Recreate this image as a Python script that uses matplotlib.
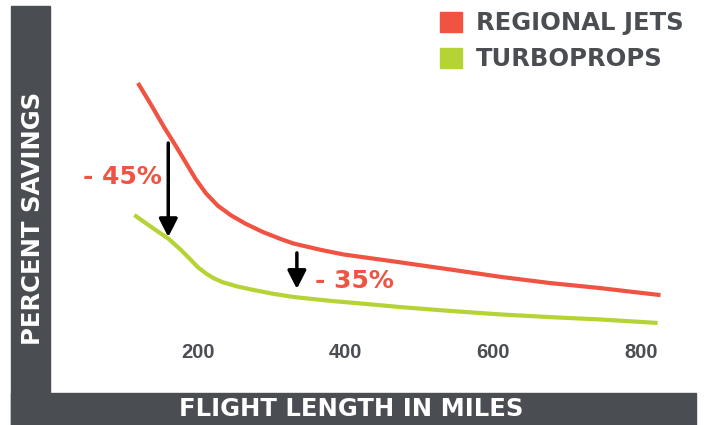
import matplotlib.pyplot as plt
from matplotlib.patches import Patch, Rectangle

# flight length (miles) and relative savings
jet_miles = [119, 137, 154, 170, 187, 197, 211, 227, 245, 265, 288, 312, 330, 366, 397,
             465, 542, 610, 677, 745, 785, 826]
jet_savings = [80.1, 74.4, 68.8, 63.9, 58.5, 55.3, 51.6, 48.4, 45.9, 43.7, 41.6, 39.8, 38.6,
               37.0, 35.8, 34.0, 31.9, 30.0, 28.4, 27.1, 26.2, 25.3]

prop_miles = [114, 137, 160, 177, 191, 200, 211, 222, 234, 254, 276, 303, 330, 380, 434,
              474, 542, 610, 677, 745, 822]
prop_savings = [46.0, 42.9, 39.9, 37.0, 34.3, 32.5, 30.9, 29.6, 28.6, 27.5, 26.6, 25.6, 24.8,
                23.8, 22.9, 22.2, 21.2, 20.3, 19.6, 19.0, 18.1]

x_ticks = [200, 400, 600, 800]
series_names = ["REGIONAL JETS", "TURBOPROPS"]
drops = ["- 45%", "- 35%"]

red = "#f05341"
green = "#b5d334"
gray = "#4a4d52"
font = "DejaVu Sans"

fig = plt.figure(figsize=(7.07, 4.25), dpi=100)
ax = fig.add_axes([50 / 707, 32 / 425, 646 / 707, 387 / 425])
ax.patch.set_visible(False)

# dark L-shaped frame, kept behind the axes so the labels show on it
fig.patches.append(Rectangle((11 / 707, 0), 39 / 707, 419 / 425, transform=fig.transFigure,
                             color=gray, zorder=-1))
fig.patches.append(Rectangle((11 / 707, 0), 685 / 707, 32 / 425, transform=fig.transFigure,
                             color=gray, zorder=-1))

ax.plot(jet_miles, jet_savings, color=red, lw=3, solid_capstyle="butt", solid_joinstyle="round")
ax.plot(prop_miles, prop_savings, color=green, lw=3, solid_capstyle="butt", solid_joinstyle="round")

ax.set_xlim(0, 874)
ax.set_ylim(0, 100)

# arrows marking the savings gap
arrow = dict(arrowstyle="-|>,head_length=0.55,head_width=0.28", color="black", lw=2.5,
             mutation_scale=20, shrinkA=0, shrinkB=0)
ax.annotate("", xy=(160, 40.3), xytext=(160, 64.6), arrowprops=arrow)
ax.annotate("", xy=(334, 26.9), xytext=(334, 36.2), arrowprops=arrow)
ax.text(44, 55.7, drops[0], color=red, fontsize=18, fontweight="bold", family=font,
        ha="left", va="center")
ax.text(359, 29.0, drops[1], color=red, fontsize=18, fontweight="bold", family=font,
        ha="left", va="center")

ax.set_xticks(x_ticks)
ax.set_xticklabels([str(t) for t in x_ticks], color=gray, fontsize=14.5, fontweight="bold",
                   family="Liberation Sans")
ax.tick_params(axis="x", length=0, pad=-36)
ax.set_yticks([])
for s in ax.spines.values():
    s.set_visible(False)

ax.set_xlabel("FLIGHT LENGTH IN MILES", color="white", fontsize=17.5, fontweight="bold",
              family=font, va="center")
ax.xaxis.set_label_coords(0.467, -0.041)
ax.set_ylabel("PERCENT SAVINGS", color="white", fontsize=17.5, fontweight="bold",
              family=font, va="center")
ax.yaxis.set_label_coords(-0.027, 0.452)

handles = [Patch(color=red), Patch(color=green)]
leg = ax.legend(handles, series_names, loc="upper right", bbox_to_anchor=(1.0, 1.018),
                frameon=False, handlelength=0.9, handleheight=0.9, handletextpad=0.6,
                labelspacing=0.5, borderaxespad=0.1,
                prop=dict(family=font, size=17.5, weight="bold"))
for t in leg.get_texts():
    t.set_color(gray)

fig.savefig("out.png", dpi=100)
